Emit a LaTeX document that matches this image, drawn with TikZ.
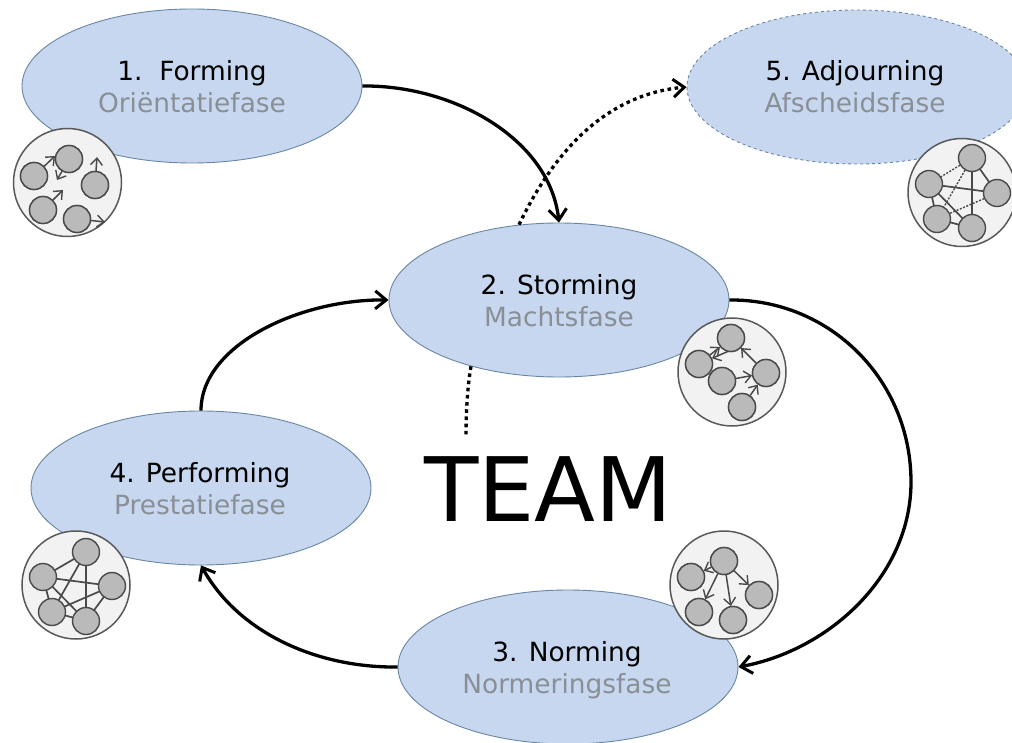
\documentclass[tikz,border=0pt]{standalone}
\usepackage{fontspec}
\setmainfont{DejaVu Sans}
\usetikzlibrary{shapes.geometric,arrows.meta}
\definecolor{ellfill}{HTML}{C6D7EF}
\definecolor{elledge}{HTML}{6A86A3}
\definecolor{subtext}{HTML}{8A8F96}
\definecolor{discfill}{HTML}{F2F2F2}
\definecolor{discedge}{HTML}{595959}
\definecolor{dotfill}{HTML}{BABABA}
\definecolor{inner}{HTML}{4A4A4A}
\tikzset{
  x=1pt,y=-1pt,
  phase/.style={ellipse,fill=ellfill,draw=elledge,line width=0.9pt,minimum width=340pt,minimum height=154pt,inner sep=0pt},
  phasetext/.style={align=center,font=\fontsize{26.4}{33}\selectfont,inner sep=0pt},
  disc/.style={circle,fill=discfill,draw=discedge,line width=1.5pt,minimum size=108pt,inner sep=0pt},
  member/.style={circle,fill=dotfill,draw=inner,line width=1.4pt,minimum size=27pt,inner sep=0pt},
  flow/.style={line width=3.3pt,black,-{Straight Barb[length=11pt,width=18pt,line width=3pt]}},
  dotflow/.style={flow,dash pattern=on 3.6pt off 3.6pt},
  dotline/.style={line width=3.3pt,black,dash pattern=on 3.6pt off 3.6pt},
  link/.style={line width=1.7pt,inner},
  weak/.style={line width=1.4pt,inner,dash pattern=on 2pt off 1.5pt},
  point/.style={line width=1.5pt,inner,-{Straight Barb[length=7pt,width=12pt,line width=1.4pt]}}
}
\newcommand{\phasetxt}[2]{#1\\[-1pt]\textcolor{subtext}{#2}}
\begin{document}
\begin{tikzpicture}
\useasboundingbox (0,0) rectangle (1012,743);
% phases
\node[phase] (e1) at (192,86) {};
\node[phase] (e2) at (559,300) {};
\node[phase] (e3) at (568,667) {};
\node[phase] (e4) at (201,488) {};
\node[phase,dashed] (e5) at (857,87) {};
\node[phasetext] (t1) at (192,87) {\phasetxt{1.\ \ Forming}{Oriëntatiefase}};
\node[phasetext] (t2) at (559,301) {\phasetxt{2. Storming}{Machtsfase}};
\node[phasetext] (t3) at (567,670) {\phasetxt{3. Norming}{Normeringsfase}};
\node[phasetext] (t4) at (200,489) {\phasetxt{4. Performing}{Prestatiefase}};
\node[phasetext] (t5) at (855,87) {\phasetxt{5. Adjourning}{Afscheidsfase}};
\node[inner sep=0pt,font=\fontsize{89}{89}\selectfont] (team) at (548.5,489) {TEAM};
\coordinate (teamtop) at (466,438);
% connectors
\draw[flow] (e1.east) .. controls (455,85) and (550,140) .. (e2.north);
\draw[dotflow] (e2.118) .. controls (550,160) and (600,95) .. (e5.west);
\coordinate (far) at (911,482);
\draw[flow] (e2.east) .. controls (830,299) and (911,380) .. (far) .. controls (911,575) and (830,650) .. (e3.east);
\draw[flow] (e3.west) .. controls (320,668) and (240,635) .. (e4.south);
\draw[flow] (e4.north) .. controls (201,345) and (300,299) .. (e2.west);
\draw[dotline] (e2.217) .. controls (467,390) and (466,415) .. (teamtop);
% Forming group
\node[disc] (d1) at (67.5,182.5) {};
\node[member] (a1) at (34,176) {};
\node[member] (a2) at (69,159) {};
\node[member] (a3) at (95,185) {};
\node[member] (a4) at (43,210) {};
\node[member] (a5) at (77,219) {};
\coordinate (a1t) at (55,156);
\coordinate (a2t) at (57,180);
\coordinate (a3t) at (97,157);
\coordinate (a4t) at (63,190);
\coordinate (a5t) at (105,222);
\draw[point] (a1) -- (a1t);
\draw[point] (a2) -- (a2t);
\draw[point] (a3) -- (a3t);
\draw[point] (a4) -- (a4t);
\draw[point] (a5) -- (a5t);
\foreach \n in {a1,a2,a3,a4,a5}{\node[member] at (\n) {};}
% Adjourning group
\node[disc] (d5) at (962,192.5) {};
\coordinate (b1) at (972,158);
\coordinate (b2) at (929,184);
\coordinate (b3) at (997,193);
\coordinate (b4) at (937,219);
\coordinate (b5) at (972,228);
\draw[link] (b1)--(b3) (b1)--(b5) (b2)--(b3) (b2)--(b4) (b2)--(b5) (b4)--(b5);
\draw[weak] (b1)--(b2) (b1)--(b4) (b3)--(b4);
\foreach \n in {b1,b2,b3,b4,b5}{\node[member] at (\n) {};}
% Storming group
\node[disc] (d2) at (732,372) {};
\node[member] (c1) at (731,338) {};
\node[member] (c2) at (699,364) {};
\node[member] (c3) at (722,381) {};
\node[member] (c4) at (766,373) {};
\node[member] (c5) at (742,407) {};
\draw[point] (710,355) -- (c1);
\draw[point] (729,351) -- (c2);
\draw[point] (c3) -- (c4);
\draw[point] (c4) -- (c1);
\draw[point] (c5) -- (c4);
\foreach \n in {c1,c2,c3,c4,c5}{\node[member] at (\n) {};}
% Norming group
\node[disc] (d3) at (724,585) {};
\node[member] (f1) at (724,561) {};
\node[member] (f2) at (691,577) {};
\node[member] (f3) at (759,595) {};
\node[member] (f4) at (699,612) {};
\node[member] (f5) at (733,620) {};
\draw[point] (f1) -- (f2);
\draw[point] (f1) -- (f3);
\draw[point] (f1) -- (f4);
\draw[point] (f1) -- (f5);
\foreach \n in {f1,f2,f3,f4,f5}{\node[member] at (\n) {};}
% Performing group
\node[disc] (d4) at (76,585) {};
\coordinate (g1) at (86,552);
\coordinate (g2) at (43,577);
\coordinate (g3) at (112,586);
\coordinate (g4) at (52,612);
\coordinate (g5) at (86,621);
\draw[link] (g1)--(g2) (g1)--(g4) (g1)--(g5) (g2)--(g3) (g2)--(g4) (g2)--(g5) (g3)--(g4) (g3)--(g5) (g4)--(g5);
\foreach \n in {g1,g2,g3,g4,g5}{\node[member] at (\n) {};}
\end{tikzpicture}
\end{document}
